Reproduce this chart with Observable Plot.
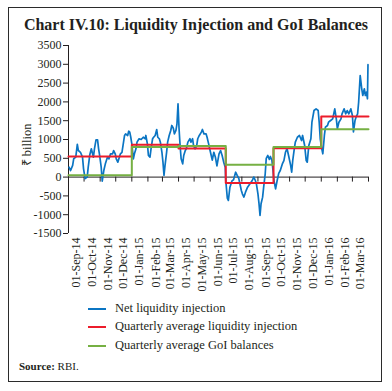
<!DOCTYPE html>
<html><head><meta charset="utf-8">
<script src="https://cdn.jsdelivr.net/npm/d3@7"></script>
<script src="https://cdn.jsdelivr.net/npm/@observablehq/plot@0.6"></script>
<style>
html,body{margin:0;padding:0;background:#fff;}
#wrap{position:relative;width:392px;height:391px;overflow:hidden;font-family:"Liberation Serif",serif;color:#231f20;}
#wrap svg{position:absolute;left:0;top:0;}
#frame{position:absolute;left:8px;top:7px;width:374px;height:375px;border:1.5px solid #2b2b2b;box-sizing:border-box;}
#title{position:absolute;left:0;width:392px;top:17px;text-align:center;font-weight:bold;font-size:16px;line-height:1;white-space:nowrap;}
#ytitle{position:absolute;left:27px;top:145px;transform:translate(-50%,-50%) rotate(-90deg);font-size:12.5px;line-height:1;white-space:nowrap;}
.lg{position:absolute;left:88px;width:18px;height:2px;}
.lt{position:absolute;left:115px;font-size:12.5px;line-height:1;white-space:nowrap;}
#source{position:absolute;left:19px;top:361px;font-size:11px;line-height:1;white-space:nowrap;}
</style>
</head><body>
<div id="wrap"><div id="frame"></div></div>
<script>
const dates = ["2014-09-02","2014-09-05","2014-09-09","2014-09-11","2014-09-15","2014-09-18","2014-09-20","2014-09-24","2014-09-28","2014-09-30",
"2014-10-03","2014-10-07","2014-10-09","2014-10-12","2014-10-15","2014-10-19","2014-10-21","2014-10-24","2014-10-27","2014-10-29","2014-10-31",
"2014-11-03","2014-11-05","2014-11-08","2014-11-11","2014-11-15","2014-11-18","2014-11-21","2014-11-25","2014-11-27","2014-11-30",
"2014-12-02","2014-12-05","2014-12-08","2014-12-10","2014-12-13","2014-12-15","2014-12-18","2014-12-20","2014-12-24","2014-12-26","2014-12-28","2014-12-30",
"2015-01-01","2015-01-04","2015-01-06","2015-01-09","2015-01-11","2015-01-15","2015-01-19","2015-01-23","2015-01-27","2015-01-28","2015-01-31",
"2015-02-02","2015-02-05","2015-02-07","2015-02-10","2015-02-12","2015-02-15","2015-02-18","2015-02-20","2015-02-23","2015-02-25","2015-02-28",
"2015-03-02","2015-03-04","2015-03-06","2015-03-09","2015-03-11","2015-03-14","2015-03-17","2015-03-19","2015-03-22","2015-03-24","2015-03-27","2015-03-29","2015-03-31",
"2015-04-02","2015-04-04","2015-04-06","2015-04-09","2015-04-11","2015-04-14","2015-04-16","2015-04-19","2015-04-23","2015-04-25","2015-04-28","2015-04-30",
"2015-05-03","2015-05-06","2015-05-08","2015-05-11","2015-05-15","2015-05-17","2015-05-20","2015-05-24","2015-05-26","2015-05-29","2015-05-31",
"2015-06-03","2015-06-05","2015-06-08","2015-06-11","2015-06-14","2015-06-18","2015-06-21","2015-06-24","2015-06-27","2015-06-30",
"2015-07-01","2015-07-04","2015-07-06","2015-07-09","2015-07-13","2015-07-16","2015-07-20","2015-07-23","2015-07-26","2015-07-31",
"2015-08-02","2015-08-05","2015-08-08","2015-08-12","2015-08-18","2015-08-21","2015-08-24","2015-08-27","2015-08-29",
"2015-09-01","2015-09-03","2015-09-05","2015-09-07","2015-09-10","2015-09-12","2015-09-15","2015-09-17","2015-09-20","2015-09-23","2015-09-25","2015-09-28","2015-09-30",
"2015-10-02","2015-10-05","2015-10-08","2015-10-11","2015-10-14","2015-10-18","2015-10-21","2015-10-24","2015-10-27","2015-10-30",
"2015-11-03","2015-11-05","2015-11-07","2015-11-10","2015-11-12","2015-11-16","2015-11-20","2015-11-24","2015-11-26","2015-11-30",
"2015-12-03","2015-12-05","2015-12-08","2015-12-12","2015-12-14","2015-12-18","2015-12-22","2015-12-26","2015-12-28","2015-12-30",
"2016-01-02","2016-01-04","2016-01-07","2016-01-09","2016-01-13","2016-01-15","2016-01-19","2016-01-23","2016-01-27","2016-01-30",
"2016-02-01","2016-02-04","2016-02-08","2016-02-10","2016-02-14","2016-02-17","2016-02-20","2016-02-23","2016-02-27",
"2016-03-01","2016-03-03","2016-03-06","2016-03-08","2016-03-11","2016-03-13","2016-03-16","2016-03-19","2016-03-21","2016-03-24","2016-03-26","2016-03-28","2016-03-30","2016-03-31"];
const netLiquidity = [263,175,310,487,530,870,707,660,530,220,
-40,0,263,593,753,530,753,990,990,753,575,
263,-110,175,353,530,487,620,620,707,620,
487,397,530,620,660,840,1107,1150,1107,1220,1195,1060,
885,487,620,753,930,1020,1000,1060,1020,1107,885,
575,530,753,1020,1060,1107,1266,1060,1020,930,660,
397,43,310,660,930,1107,1240,1373,1300,1150,1240,1418,1950,
1285,840,487,353,575,707,753,930,1020,930,1020,840,
753,840,1020,1107,1195,1266,1150,1150,1060,885,753,
575,450,660,530,300,620,707,575,397,263,
-90,-560,-622,-268,-100,-72,130,43,-30,-356,
-444,-530,-400,-268,-150,-90,0,-90,-178,
-444,-700,-1021,-710,-534,-268,88,500,575,470,548,440,175,
-100,-311,-90,100,175,350,440,660,760,575,
310,130,440,753,930,1060,1107,973,1107,840,
440,397,840,1020,1460,1771,1816,1771,1460,1020,
753,620,1107,1327,1373,1460,1505,1550,1816,1550,
1285,1460,1550,1683,1816,1683,1771,1683,1816,
1638,1200,1505,1594,1683,1992,2702,2348,2170,2348,2170,2258,2083,2990];

const quarterStarts = ["2014-09-01","2015-01-01","2015-04-01","2015-07-01","2015-10-01","2016-01-01"];
const quarterlyAvgLiquidity = [550, 860, 760, -160, 770, 1610];
const quarterlyAvgGoI = [50, 800, 830, 330, 800, 1270];
const axisStart = "2014-09-01";
const axisEnd = "2016-04-01";
const yTicks = [-1500,-1000,-500,0,500,1000,1500,2000,2500,3000,3500];
const xTickLabels = ["01-Sep-14","01-Oct-14","01-Nov-14","01-Dec-14","01-Jan-15","01-Feb-15","01-Mar-15","01-Apr-15","01-May-15","01-Jun-15","01-Jul-15","01-Aug-15","01-Sep-15","01-Oct-15","01-Nov-15","01-Dec-15","01-Jan-16","01-Feb-16","01-Mar-16"];
const seriesNames = ["Net liquidity injection","Quarterly average liquidity injection","Quarterly average GoI balances"];
const seriesColors = ["#0b75c3","#ec1c2b","#76b043"];

const start = new Date(axisStart), end = new Date(axisEnd);
const blue = dates.map((d, i) => ({date: new Date(d), value: netLiquidity[i]}));
const steps = quarterStarts.map((d, i) => ({date: new Date(d), liq: quarterlyAvgLiquidity[i], goi: quarterlyAvgGoI[i]}));
steps.push({date: end, liq: quarterlyAvgLiquidity[quarterlyAvgLiquidity.length - 1], goi: quarterlyAvgGoI[quarterlyAvgGoI.length - 1]});
const monthStarts = d3.utcMonth.range(start, d3.utcDay.offset(end, 1));
const labelPos = xTickLabels.map((_, i) => d3.utcDay.offset(d3.utcMonth.offset(start, i), 15));
const ink = "#231f20";

const chart = Plot.plot({
  width: 392, height: 391,
  marginLeft: 68, marginRight: 24, marginTop: 45, marginBottom: 158,
  style: {fontFamily: "Liberation Serif, serif", fontSize: "12px", color: ink, background: "transparent"},
  x: {type: "utc", domain: [start, end]},
  y: {domain: [-1500, 3500]},
  marks: [
    Plot.ruleX([start], {stroke: ink, strokeWidth: 1}),
    Plot.ruleY([0], {stroke: ink, strokeWidth: 1}),
    Plot.ruleX(monthStarts, {x: d => d, y1: 0, y2: 0, insetBottom: -5, stroke: ink, strokeWidth: 1}),
    Plot.axisY(yTicks, {tickSize: 5, tickPadding: 2, tickFormat: d => String(d), label: null, fontSize: 12, stroke: ink}),
    Plot.axisX(labelPos, {anchor: "bottom", tickSize: 0, tickPadding: 4, tickRotate: -90, label: null, fontSize: 12,
      tickFormat: d => xTickLabels[d3.utcMonth.count(start, d)]}),
    Plot.line(blue, {x: "date", y: "value", stroke: seriesColors[0], strokeWidth: 1.7}),
    Plot.line(steps, {x: "date", y: "liq", stroke: seriesColors[1], strokeWidth: 2, curve: "step-after"}),
    Plot.line(steps, {x: "date", y: "goi", stroke: seriesColors[2], strokeWidth: 2, curve: "step-after"})
  ]
});
const wrap = document.getElementById("wrap");
wrap.appendChild(chart);

function add(html, cls, id, styleObj) {
  const el = document.createElement("div");
  if (cls) el.className = cls;
  if (id) el.id = id;
  el.innerHTML = html;
  Object.assign(el.style, styleObj || {});
  wrap.appendChild(el);
  return el;
}
add("Chart IV.10: Liquidity Injection and GoI Balances", null, "title");
add("₹ billion", null, "ytitle");
const rowsY = [309, 327, 346];
seriesNames.forEach((name, i) => {
  add("", "lg", null, {top: (rowsY[i] - 1) + "px", background: seriesColors[i]});
  add(name, "lt", null, {top: (rowsY[i] - 7) + "px"});
});
add("<b>Source:</b> RBI.", null, "source");
</script>
</body></html>
